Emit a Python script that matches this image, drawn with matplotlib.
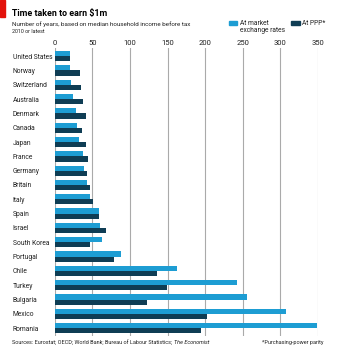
import numpy as np
import matplotlib.pyplot as plt
from matplotlib.patches import Rectangle

countries = ['United States', 'Norway', 'Switzerland', 'Australia', 'Denmark',
             'Canada', 'Japan', 'France', 'Germany', 'Britain', 'Italy', 'Spain',
             'Israel', 'South Korea', 'Portugal', 'Chile', 'Turkey', 'Bulgaria',
             'Mexico', 'Romania']
market = [20, 20, 22, 24, 28, 30, 32, 37, 39, 43, 47, 59, 60, 63, 88, 163, 242, 255, 307, 349]
ppp = [20, 33, 35, 37, 41, 36, 42, 44, 43, 47, 51, 59, 68, 47, 78, 136, 149, 123, 203, 194]
ticks = [0, 50, 100, 150, 200, 250, 300, 350]

LIGHT = '#1d9dd3'
DARK = '#0f3d54'
TXT = '#222222'
plt.rcParams['font.family'] = ['Liberation Sans Narrow', 'Roboto', 'DejaVu Sans']

fig = plt.figure(figsize=(3.43, 3.5), dpi=100)
ax = fig.add_axes([0.160, 0.04, 0.767, 0.822])

y = np.arange(len(countries))
h = 0.36
ax.barh(y - h / 2, market, height=h, color=LIGHT, zorder=3, clip_on=False)
ax.barh(y + h / 2, ppp, height=h, color=DARK, zorder=3, clip_on=False)

ax.set_ylim(len(countries) - 0.45, -0.55)
ax.set_xlim(0, 350)
ax.set_yticks(y)
ax.set_yticklabels(countries, fontsize=4.9, color=TXT, ha='left')
ax.set_xticks(ticks)
ax.xaxis.tick_top()
ax.tick_params(axis='x', length=0, labelsize=5.5, pad=1.5, labelcolor=TXT)
ax.tick_params(axis='y', length=0, pad=30.5)
for s in ax.spines.values():
    s.set_visible(False)
ax.grid(axis='x', color='#aaaaaa', linewidth=0.8, zorder=0)
ax.set_axisbelow(True)

# header
fig.patches.append(Rectangle((0, 1 - 17 / 350), 5 / 343, 17 / 350,
                             transform=fig.transFigure, color='#e3120b'))
fig.text(12 / 343, 1 - 16 / 350, 'Time taken to earn $1m', fontsize=6.4,
         fontweight='bold', va='baseline')
fig.text(12 / 343, 1 - 26 / 350,
         'Number of years, based on median household income before tax',
         fontsize=4.5, va='baseline', color=TXT)
fig.text(12 / 343, 1 - 33 / 350, '2010 or latest', fontsize=3.9,
         va='baseline', color=TXT)

# legend
fig.patches.append(Rectangle((229 / 343, 1 - 25 / 350), 8 / 343, 4 / 350,
                             transform=fig.transFigure, color=LIGHT))
fig.text(240 / 343, 1 - 20 / 350, 'At market\nexchange rates', fontsize=4.8,
         va='top', linespacing=1.0, color=TXT)
fig.patches.append(Rectangle((291 / 343, 1 - 25 / 350), 9 / 343, 4 / 350,
                             transform=fig.transFigure, color=DARK))
fig.text(302 / 343, 1 - 20 / 350, 'At PPP*', fontsize=4.8, va='top', color=TXT)

# footer
src = fig.text(12 / 343, 1 - 344 / 350,
               'Sources: Eurostat; OECD; World Bank; Bureau of Labour Statistics; ',
               fontsize=4.0, va='baseline', color=TXT)
fig.canvas.draw()
ext = src.get_window_extent()
fig.text(ext.x1 / fig.bbox.width, 1 - 344 / 350, 'The Economist', fontsize=4.0,
         style='italic', va='baseline', color=TXT)
fig.text(323 / 343, 1 - 344 / 350, '*Purchasing-power parity', fontsize=4.0,
         ha='right', va='baseline', color=TXT)

fig.savefig('out.png', dpi=100)
